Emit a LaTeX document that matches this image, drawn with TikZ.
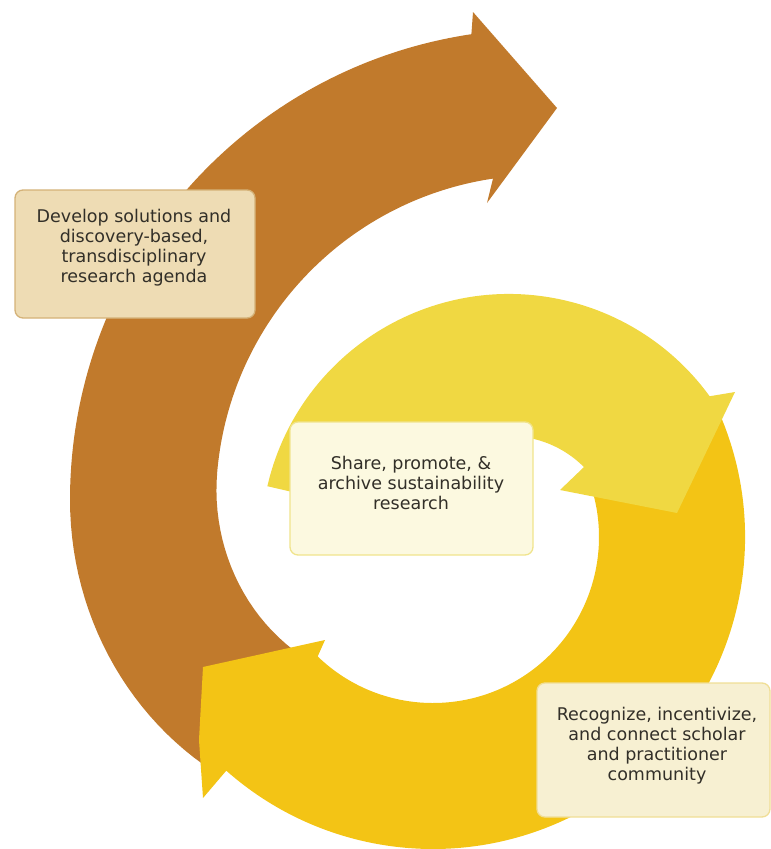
\documentclass[tikz,border=0pt]{standalone}
\usepackage{fontspec}
\setmainfont{DejaVu Sans}
\definecolor{brownC}{RGB}{193,122,44}
\definecolor{lightY}{RGB}{240,216,66}
\definecolor{goldY}{RGB}{243,196,21}
\definecolor{boxAfill}{RGB}{238,220,180}
\definecolor{boxAdraw}{RGB}{212,178,120}
\definecolor{boxBfill}{RGB}{252,249,224}
\definecolor{boxBdraw}{RGB}{240,228,140}
\definecolor{boxCfill}{RGB}{247,240,210}
\definecolor{boxCdraw}{RGB}{240,222,150}
\definecolor{txt}{RGB}{50,47,40}
\tikzset{
  panel/.style={rounded corners=8pt, line width=1.3pt},
  label/.style={align=center, text=txt, font=\fontsize{17.5}{20}\selectfont, inner sep=0pt}
}
\begin{document}
\begin{tikzpicture}[x=1pt,y=1pt]
\useasboundingbox (0,0) rectangle (771,-849);
% brown outer spiral arrow
\fill[brownC] ([shift={(541,-500)}]98.5:471) arc[start angle=98.5,end angle=180,radius=471]
  -- plot[domain=180:218,samples=26,variable=\t] ({541+(471-0.029*(\t-180)^2)*cos(\t)},{-500+(471-0.029*(\t-180)^2)*sin(\t)})
  -- plot[domain=218:175,samples=26,variable=\t] ({541+(325-0.0271*(\t-175)^2)*cos(\t)},{-500+(325-0.0271*(\t-175)^2)*sin(\t)})
  arc[start angle=175,end angle=98.5,radius=325]
  -- (487,-203) -- (557,-108) -- (473,-12) -- cycle;
% golden arrow
\fill[goldY] ([shift={(433,-537)}]24:312) arc[start angle=24,end angle=-131.5,radius=312]
  -- (203,-798) -- (199,-740) -- (203,-667) -- (325,-640)
  -- ([shift={(433,-537)}]-134:166) arc[start angle=-134,end angle=24,radius=166] -- cycle;
% light yellow arrow
\fill[lightY] ([shift={(509,-542)}]167:248) arc[start angle=167,end angle=36,radius=248]
  -- (735,-392) -- (677,-513) -- (560,-490)
  -- ([shift={(509,-542)}]45:106) arc[start angle=45,end angle=167,radius=106] -- cycle;
% boxes
\node[panel, fill=boxAfill, draw=boxAdraw, minimum width=240pt, minimum height=128pt] (bA) at (135,-254) {};
\node[label] (tA) at (134,-248) {Develop solutions and\\discovery-based,\\transdisciplinary\\research agenda};
\node[panel, fill=boxBfill, draw=boxBdraw, minimum width=243pt, minimum height=133pt] (bB) at (411.5,-488.5) {};
\node[label] (tB) at (411,-483) {Share, promote, \&\\archive sustainability\\research};
\node[panel, fill=boxCfill, draw=boxCdraw, minimum width=233pt, minimum height=134pt] (bC) at (653.5,-750) {};
\node[label] (tC) at (657,-746) {Recognize, incentivize,\\and connect scholar\\and practitioner\\community};
\end{tikzpicture}
\end{document}
